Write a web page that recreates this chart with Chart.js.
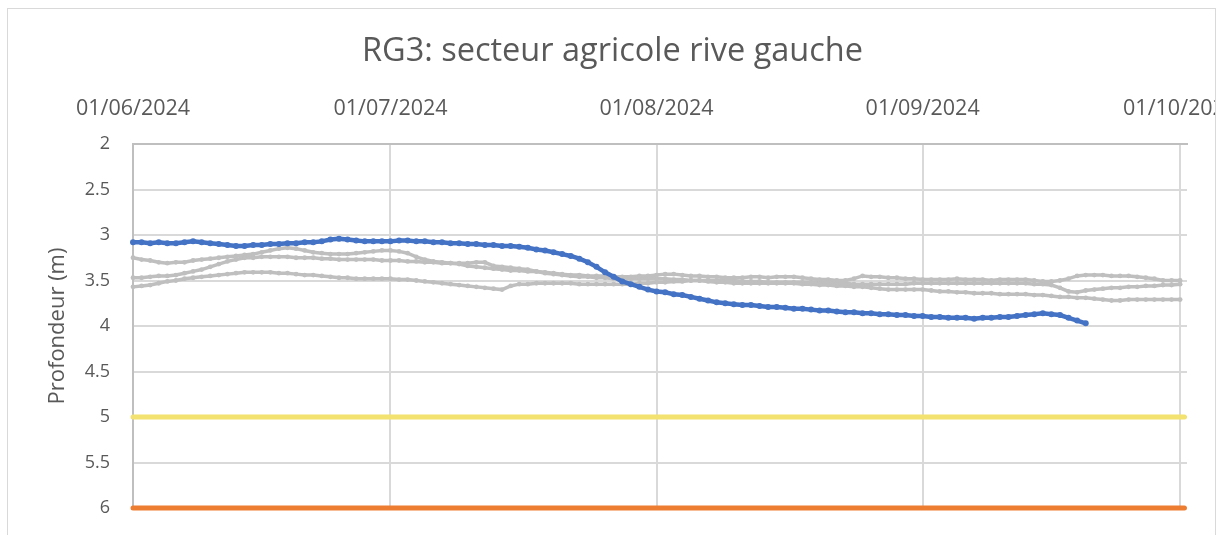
<!DOCTYPE html>
<html lang="fr">
<head>
<meta charset="utf-8">
<title>RG3: secteur agricole rive gauche</title>
<script src="https://cdn.jsdelivr.net/npm/chart.js@4.4.1/dist/chart.umd.min.js"></script>
<style>
  html, body { margin: 0; padding: 0; background: #fff; }
  body { width: 1225px; height: 535px; overflow: hidden; position: relative; }
  /* cadre gris du graphique Excel, coupé à droite */
  #frame { position: absolute; left: 7px; top: 8px; width: 1207px; height: 560px; border: 1px solid #d9d9d9; overflow: hidden; }
  #wrap { position: absolute; left: -8px; top: -9px; width: 1225px; height: 535px; }
</style>
</head>
<body>
<div id="frame"><div id="wrap"><canvas id="chart" width="1225" height="535"></canvas></div></div>
<script>
// x = jours depuis le 01/06/2024
const monthTicks = [0, 30, 61, 92, 122];
const monthLabels = ['01/06/2024', '01/07/2024', '01/08/2024', '01/09/2024', '01/10/2024'];
const xMax = 122.8;

// RG3 2024 (bleu), du 01/06 au 20/09
const depth2024 = [
  3.08, 3.08, 3.09, 3.08, 3.09, 3.09, 3.08, 3.07, 3.08, 3.09,
  3.10, 3.11, 3.12, 3.12, 3.11, 3.11, 3.10, 3.10, 3.09, 3.09,
  3.08, 3.08, 3.07, 3.05, 3.04, 3.05, 3.06, 3.07, 3.07, 3.07,
  3.07, 3.06, 3.06, 3.07, 3.07, 3.08, 3.08, 3.09, 3.09, 3.10,
  3.10, 3.11, 3.11, 3.12, 3.12, 3.13, 3.14, 3.16, 3.17, 3.19,
  3.21, 3.23, 3.26, 3.30, 3.35, 3.41, 3.46, 3.51, 3.54, 3.57,
  3.60, 3.62, 3.63, 3.65, 3.66, 3.68, 3.70, 3.72, 3.74, 3.75,
  3.76, 3.77, 3.77, 3.78, 3.79, 3.79, 3.80, 3.81, 3.81, 3.82,
  3.83, 3.83, 3.84, 3.85, 3.85, 3.86, 3.86, 3.87, 3.87, 3.88,
  3.88, 3.89, 3.89, 3.90, 3.90, 3.91, 3.91, 3.91, 3.92, 3.91,
  3.91, 3.90, 3.90, 3.89, 3.88, 3.87, 3.86, 3.87, 3.88, 3.91,
  3.94, 3.97
];

// années précédentes (gris), du 01/06 au 01/10
const depthPrevA = [
  3.25, 3.27, 3.28, 3.30, 3.31, 3.30, 3.30, 3.28, 3.27, 3.26,
  3.25, 3.24, 3.23, 3.22, 3.21, 3.19, 3.17, 3.15, 3.14, 3.15,
  3.17, 3.19, 3.20, 3.21, 3.21, 3.21, 3.20, 3.19, 3.18, 3.17,
  3.17, 3.18, 3.20, 3.24, 3.27, 3.29, 3.30, 3.31, 3.32, 3.34,
  3.35, 3.36, 3.37, 3.38, 3.39, 3.39, 3.40, 3.40, 3.41, 3.42,
  3.43, 3.44, 3.44, 3.45, 3.45, 3.45, 3.46, 3.46, 3.46, 3.45,
  3.45, 3.44, 3.43, 3.43, 3.44, 3.45, 3.45, 3.46, 3.46, 3.47,
  3.47, 3.47, 3.46, 3.46, 3.47, 3.46, 3.46, 3.46, 3.47, 3.48,
  3.49, 3.49, 3.50, 3.50, 3.48, 3.45, 3.46, 3.46, 3.47, 3.47,
  3.48, 3.48, 3.49, 3.49, 3.49, 3.49, 3.48, 3.49, 3.49, 3.49,
  3.50, 3.49, 3.49, 3.49, 3.49, 3.50, 3.51, 3.51, 3.50, 3.48,
  3.45, 3.44, 3.44, 3.44, 3.45, 3.45, 3.45, 3.46, 3.47, 3.48,
  3.50, 3.50, 3.50
];
const depthPrevB = [
  3.47, 3.47, 3.46, 3.45, 3.45, 3.44, 3.42, 3.40, 3.38, 3.35,
  3.32, 3.29, 3.27, 3.25, 3.25, 3.24, 3.24, 3.24, 3.24, 3.25,
  3.25, 3.25, 3.26, 3.26, 3.27, 3.27, 3.27, 3.27, 3.27, 3.28,
  3.28, 3.28, 3.29, 3.29, 3.30, 3.30, 3.31, 3.31, 3.31, 3.31,
  3.30, 3.30, 3.34, 3.35, 3.36, 3.37, 3.38, 3.40, 3.42, 3.43,
  3.44, 3.45, 3.46, 3.46, 3.47, 3.47, 3.48, 3.48, 3.48, 3.48,
  3.48, 3.48, 3.48, 3.49, 3.49, 3.50, 3.50, 3.50, 3.50, 3.50,
  3.50, 3.51, 3.51, 3.51, 3.52, 3.52, 3.52, 3.52, 3.52, 3.52,
  3.52, 3.52, 3.53, 3.53, 3.54, 3.54, 3.54, 3.54, 3.54, 3.54,
  3.54, 3.53, 3.53, 3.53, 3.53, 3.53, 3.53, 3.53, 3.53, 3.53,
  3.53, 3.53, 3.53, 3.53, 3.53, 3.54, 3.54, 3.55, 3.58, 3.62,
  3.63, 3.61, 3.60, 3.59, 3.58, 3.58, 3.57, 3.57, 3.56, 3.56,
  3.55, 3.55, 3.54
];
const depthPrevC = [
  3.57, 3.56, 3.55, 3.53, 3.51, 3.50, 3.48, 3.47, 3.46, 3.45,
  3.44, 3.43, 3.42, 3.41, 3.41, 3.41, 3.41, 3.42, 3.42, 3.43,
  3.44, 3.44, 3.45, 3.46, 3.47, 3.47, 3.48, 3.48, 3.48, 3.48,
  3.48, 3.49, 3.49, 3.50, 3.51, 3.52, 3.53, 3.54, 3.55, 3.56,
  3.57, 3.58, 3.59, 3.60, 3.56, 3.54, 3.54, 3.53, 3.53, 3.53,
  3.53, 3.53, 3.54, 3.54, 3.54, 3.54, 3.54, 3.54, 3.54, 3.53,
  3.53, 3.52, 3.52, 3.51, 3.51, 3.50, 3.50, 3.51, 3.52, 3.52,
  3.53, 3.53, 3.53, 3.53, 3.53, 3.53, 3.53, 3.53, 3.54, 3.54,
  3.55, 3.55, 3.56, 3.56, 3.57, 3.57, 3.58, 3.59, 3.60, 3.60,
  3.60, 3.60, 3.60, 3.61, 3.62, 3.62, 3.63, 3.63, 3.64, 3.64,
  3.64, 3.65, 3.65, 3.65, 3.65, 3.66, 3.66, 3.67, 3.68, 3.68,
  3.69, 3.69, 3.70, 3.71, 3.72, 3.72, 3.71, 3.71, 3.71, 3.71,
  3.71, 3.71, 3.71
];

// seuils
const seuilDays = [0, 122.5];
const seuilVigilance = [5, 5];
const seuilCrise = [6, 6];

const FONT = "'Open Sans', sans-serif";
const TEXT = '#595959';

const toPoints = (days, values) => values.map((v, i) => ({ x: days ? days[i] : i, y: v }));

const serie = (data, color, width, radius) => ({
    data,
    borderColor: color,
    backgroundColor: color,
    borderWidth: width,
    pointRadius: radius,
    pointBorderWidth: 0,
    tension: 0,
    clip: false
});

new Chart(document.getElementById('chart'), {
    type: 'line',
    data: {
        datasets: [
            serie(toPoints(null, depth2024), '#4472c4', 4.5, 3),
            serie(toPoints(null, depthPrevA), '#bfbfbf', 3.5, 2.4),
            serie(toPoints(null, depthPrevB), '#bfbfbf', 3.5, 2.4),
            serie(toPoints(null, depthPrevC), '#bfbfbf', 3.5, 2.4),
            { ...serie(toPoints(seuilDays, seuilVigilance), '#f3e26f', 5, 0), borderCapStyle: 'round' },
            { ...serie(toPoints(seuilDays, seuilCrise), '#ed7d31', 5, 0), borderCapStyle: 'round' }
        ]
    },
    options: {
        responsive: false,
        animation: false,
        devicePixelRatio: 1,
        layout: { padding: { left: 0, right: 0, top: 0, bottom: 27 } },
        plugins: {
            legend: { display: false },
            tooltip: { enabled: false },
            title: {
                display: true,
                text: 'RG3: secteur agricole rive gauche',
                color: TEXT,
                font: { family: FONT, size: 32.5, weight: 'normal' },
                padding: { top: 32, bottom: 0 }
            }
        },
        scales: {
            x: {
                type: 'linear',
                position: 'top',
                min: 0,
                max: xMax,
                afterBuildTicks: (scale) => { scale.ticks = monthTicks.map(v => ({ value: v })); },
                // marge droite fixe : le dernier libellé est coupé par le cadre
                afterFit: (scale) => { scale.height = 73; scale.paddingLeft = 0; scale.paddingRight = 38; },
                ticks: {
                    color: TEXT,
                    font: { family: FONT, size: 21.5 },
                    padding: 22,
                    autoSkip: false,
                    maxRotation: 0,
                    callback: (v) => monthLabels[monthTicks.indexOf(v)]
                },
                grid: { color: '#d9d9d9', lineWidth: 2, drawTicks: false },
                border: { color: '#bfbfbf', width: 2 }
            },
            y: {
                reverse: true,
                min: 2,
                max: 6,
                afterFit: (scale) => { scale.width = 133; scale.paddingTop = 0; scale.paddingBottom = 0; },
                ticks: {
                    stepSize: 0.5,
                    color: TEXT,
                    font: { family: FONT, size: 18 },
                    padding: 23,
                    callback: (v) => String(v)
                },
                grid: { color: '#d9d9d9', lineWidth: 2, drawTicks: false },
                border: { color: '#bfbfbf', width: 2 },
                title: {
                    display: true,
                    text: 'Profondeur (m)',
                    color: TEXT,
                    font: { family: FONT, size: 22 },
                    padding: { top: 45, bottom: 0 }
                }
            }
        }
    }
});
</script>
</body>
</html>
